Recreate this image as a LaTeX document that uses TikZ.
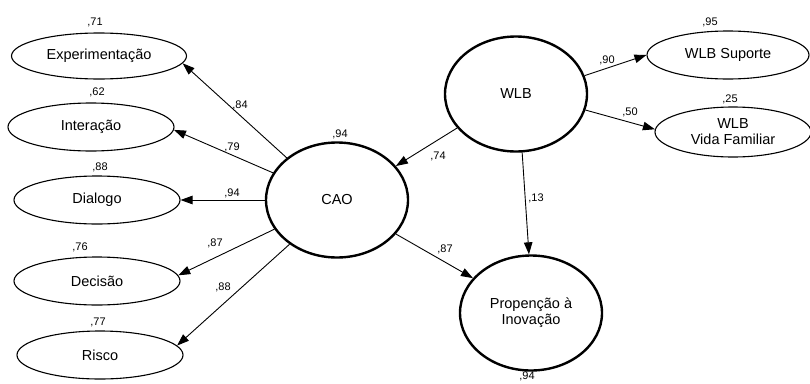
\documentclass[tikz,border=0pt]{standalone}
\usepackage{fontspec}
\setmainfont{Liberation Sans}
\usetikzlibrary{arrows.meta}
\usetikzlibrary{shapes.geometric}

\begin{document}
\begin{tikzpicture}[
	x=1pt, y=-1pt,
	indicator/.style={ellipse, draw, line width=1.1pt, inner sep=0pt,
		minimum width=166pt, minimum height=48pt, align=center,
		font=\fontsize{14.5}{16}\selectfont},
	latent/.style={ellipse, draw, line width=2.4pt, inner sep=0pt,
		minimum width=142pt, minimum height=115pt, align=center,
		font=\fontsize{14.5}{16}\selectfont},
	loading/.style={line width=0.9pt, -{Triangle[length=12pt,width=8.5pt]}},
	coef/.style={inner sep=0pt, font=\fontsize{11}{12}\selectfont}
	]
	\useasboundingbox (0,0) rectangle (810,383);

	% latent variables
	\node[latent] (cao) at (337,200) {CAO};
	\node[latent] (wlb) at (516,94) {WLB};
	\node[latent] (prop) at (531,313) {Propenção à\\Inovação};

	% indicators of CAO
	\node[indicator, minimum width=175pt, minimum height=46pt] (exp) at (99,56) {Experimentação};
	\node[indicator] (int) at (91,127) {Interação};
	\node[indicator] (dia) at (97,200) {Dialogo};
	\node[indicator] (dec) at (97,281) {Decisão};
	\node[indicator] (ris) at (100,355) {Risco};

	% indicators of WLB
	\node[indicator, minimum width=162pt] (sup) at (728,55) {WLB Suporte};
	\node[indicator, minimum width=156pt, minimum height=50pt] (vid) at (733,132) {WLB\\Vida Familiar};

	% paths
	\draw[loading] (cao.140) -- (exp.-5);
	\draw[loading] (cao.157) -- (int.-2);
	\draw[loading] (cao.180) -- (dia.0);
	\draw[loading] (cao.-155) -- (dec.4);
	\draw[loading] (cao.-137) -- (ris.7);
	\draw[loading] (wlb.-150) -- (cao.30);
	\draw[loading] (wlb.-84) -- (prop.92);
	\draw[loading] (cao.-30) -- (prop.149);
	\draw[loading] (wlb.15) -- (sup.180);
	\draw[loading] (wlb.-13) -- (vid.178);

	% squared multiple correlations
	\node[coef] (r2exp) at (95,22) {,71};
	\node[coef] (r2int) at (97,92) {,62};
	\node[coef] (r2dia) at (100,167) {,88};
	\node[coef] (r2dec) at (80,247) {,76};
	\node[coef] (r2ris) at (98,322) {,77};
	\node[coef] (r2cao) at (340,134) {,94};
	\node[coef] (r2sup) at (710,22) {,95};
	\node[coef] (r2vid) at (730,99) {,25};
	\node[coef] (r2prop) at (527,376) {,94};

	% standardized weights
	\node[coef] (wexp) at (240,105) {,84};
	\node[coef] (wint) at (232,147) {,79};
	\node[coef] (wdia) at (232,193) {,94};
	\node[coef] (wdec) at (215,243) {,87};
	\node[coef] (wris) at (223,287) {,88};
	\node[coef] (wcao) at (438,156) {,74};
	\node[coef] (wprop) at (536,198) {,13};
	\node[coef] (wcp) at (445,249) {,87};
	\node[coef] (wsup) at (607,60) {,90};
	\node[coef] (wvid) at (630,112) {,50};
\end{tikzpicture}
\end{document}
